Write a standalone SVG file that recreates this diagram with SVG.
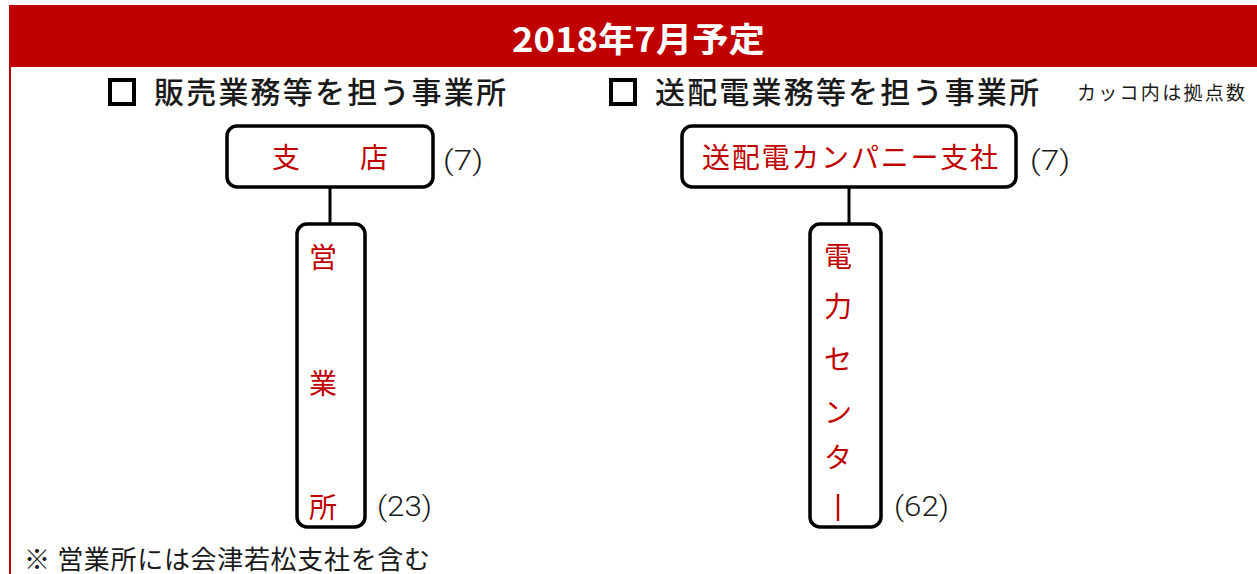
<svg xmlns="http://www.w3.org/2000/svg" width="1257" height="574" viewBox="0 0 1257 574">
<style>
.jp{font-family:"Noto Sans CJK JP","Noto Sans",sans-serif}
.node{fill:#fff;stroke:#000;stroke-width:3.5}
.red{fill:#C00000}
.blk{fill:#1a1a1a}
.num{font-family:Roboto,"Liberation Sans",sans-serif;font-weight:300;font-size:28px;fill:#1a1a1a}
.conn{stroke:#000;stroke-width:3;fill:none}
</style>
<rect x="0" y="0" width="1257" height="574" fill="#fff"/>
<g id="frame">
<rect x="10" y="6" width="1262" height="590" fill="none" stroke="#C00000" stroke-width="2"/>
<rect x="10" y="6" width="1247" height="61" fill="#C00000"/>
<text x="512" y="52" class="jp" font-size="34" font-weight="bold" fill="#fff" textLength="253" lengthAdjust="spacingAndGlyphs">2018年7月予定</text>
</g>
<g id="headings">
<rect x="110" y="80" width="24" height="24" fill="none" stroke="#000" stroke-width="4"/>
<text x="154" y="103" class="jp blk" font-size="30" font-weight="500" textLength="352" lengthAdjust="spacing">販売業務等を担う事業所</text>
<rect x="611" y="80" width="24" height="24" fill="none" stroke="#000" stroke-width="4"/>
<text x="655" y="103" class="jp blk" font-size="30" font-weight="500" textLength="384" lengthAdjust="spacing">送配電業務等を担う事業所</text>
<text x="1077" y="100" class="jp blk" font-size="19" textLength="168" lengthAdjust="spacing">カッコ内は拠点数</text>
</g>
<g id="connectors">
<line class="conn" x1="330" y1="187" x2="330" y2="225"/>
<line class="conn" x1="849" y1="187" x2="849" y2="225"/>
</g>
<g id="shiten">
<rect class="node" x="227" y="126" width="206" height="61" rx="10"/>
<text x="286" y="168" text-anchor="middle" class="jp red" font-size="28">支</text>
<text x="374" y="168" text-anchor="middle" class="jp red" font-size="28">店</text>
<text x="443" y="170" class="num" textLength="40" lengthAdjust="spacingAndGlyphs">(7)</text>
</g>
<g id="eigyosho">
<rect class="node" x="297" y="224" width="68" height="303" rx="10"/>
<text x="323" y="268" text-anchor="middle" class="jp red" font-size="28">営</text>
<text x="323" y="394" text-anchor="middle" class="jp red" font-size="28">業</text>
<text x="323" y="518" text-anchor="middle" class="jp red" font-size="28">所</text>
<text x="377" y="516" class="num" textLength="55" lengthAdjust="spacingAndGlyphs">(23)</text>
</g>
<g id="company">
<rect class="node" x="682" y="126" width="334" height="61" rx="10"/>
<text x="702" y="168" class="jp red" font-size="28" textLength="296" lengthAdjust="spacing">送配電カンパニー支社</text>
<text x="1030" y="170" class="num" textLength="40" lengthAdjust="spacingAndGlyphs">(7)</text>
</g>
<g id="center">
<rect class="node" x="810" y="224" width="71" height="303" rx="10"/>
<text x="838" y="267" text-anchor="middle" class="jp red" font-size="28">電</text>
<text x="838" y="317" text-anchor="middle" class="jp red" font-size="28">力</text>
<text x="838" y="370" text-anchor="middle" class="jp red" font-size="28">セ</text>
<text x="838" y="423" text-anchor="middle" class="jp red" font-size="28">ン</text>
<text x="838" y="468" text-anchor="middle" class="jp red" font-size="28">タ</text>
<line x1="838" y1="494" x2="838" y2="521" stroke="#C00000" stroke-width="2.4"/>
<text x="894" y="516" class="num" textLength="55" lengthAdjust="spacingAndGlyphs">(62)</text>
</g>
<g id="note">
<text x="24" y="569" class="jp blk" font-size="26" textLength="406" lengthAdjust="spacing">※ 営業所には会津若松支社を含む</text>
</g>
</svg>
